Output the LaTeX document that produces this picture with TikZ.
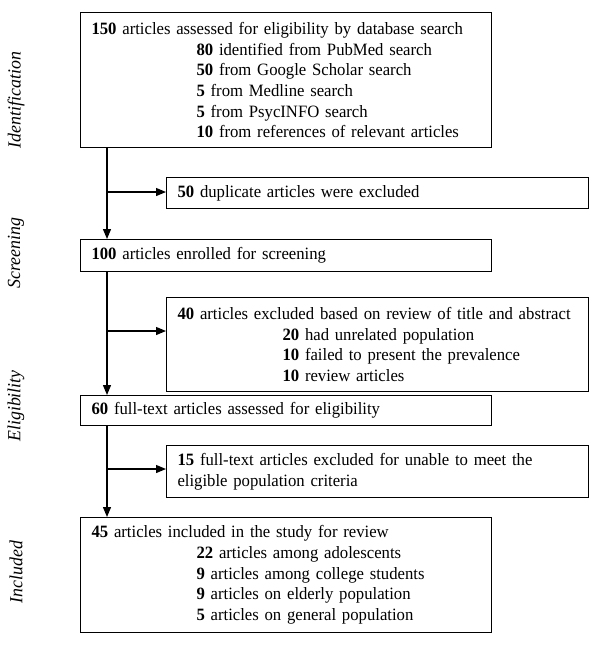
\documentclass[tikz,border=0pt]{standalone}
\usepackage{fontspec}
\setmainfont{Liberation Serif}[FakeStretch=0.965]
\usetikzlibrary{arrows.meta}
\begin{document}
\begin{tikzpicture}[x=1pt,y=-1pt,
  box/.style={draw, line width=1.1pt, anchor=north west, align=left,
    inner xsep=11pt, inner ysep=0pt, font=\fontsize{17.3}{20.7}\selectfont},
  flow/.style={line width=1.2pt, -{Triangle[length=10pt,width=8pt]}},
  phase/.style={rotate=90, font=\itshape\fontsize{18.5}{22}\selectfont}]
\useasboundingbox (0,0) rectangle (600,646);
\newcommand{\ind}{\hspace*{105pt}}
\node[box, text width=389pt, minimum height=135pt] (b1) at (80,12)
  {\textbf{150} articles assessed for eligibility by database search\\
   \ind\textbf{80} identified from PubMed search\\
   \ind\textbf{50} from Google Scholar search\\
   \ind\textbf{5} from Medline search\\
   \ind\textbf{5} from PsycINFO search\\
   \ind\textbf{10} from references of relevant articles};
\node[box, text width=400pt, minimum height=31pt] (b2) at (166,177)
  {\textbf{50} duplicate articles were excluded};
\node[box, text width=389pt, minimum height=32pt] (b3) at (80,239)
  {\textbf{100} articles enrolled for screening};
\node[box, text width=400pt, minimum height=94pt] (b4) at (166,297)
  {\textbf{40} articles excluded based on review of title and abstract\\
   \ind\textbf{20} had unrelated population\\
   \ind\textbf{10} failed to present the prevalence\\
   \ind\textbf{10} review articles};
\node[box, text width=389pt, minimum height=30pt] (b5) at (80,395)
  {\textbf{60} full-text articles assessed for eligibility};
\node[box, text width=400pt, minimum height=52pt] (b6) at (166,445)
  {\textbf{15} full-text articles excluded for unable to meet the\\
   eligible population criteria};
\node[box, text width=389pt, minimum height=115pt] (b7) at (80,517)
  {\textbf{45} articles included in the study for review\\
   \ind\textbf{22} articles among adolescents\\
   \ind\textbf{9} articles among college students\\
   \ind\textbf{9} articles on elderly population\\
   \ind\textbf{5} articles on general population};
\coordinate (c) at (107,0);
\coordinate (j1) at (107,192);
\coordinate (j2) at (107,331);
\coordinate (j3) at (107,469);
\draw[flow] (b1.south -| c) -- (b3.north -| c);
\draw[flow] (j1) -- (j1 -| b2.west);
\draw[flow] (b3.south -| c) -- (b5.north -| c);
\draw[flow] (j2) -- (j2 -| b4.west);
\draw[flow] (b5.south -| c) -- (b7.north -| c);
\draw[flow] (j3) -- (j3 -| b6.west);
\node[phase] (p1) at (16,100) {Identification};
\node[phase] (p2) at (16,253) {Screening};
\node[phase] (p3) at (16,406) {Eligibility};
\node[phase] (p4) at (16,572) {Included};
\end{tikzpicture}
\end{document}
